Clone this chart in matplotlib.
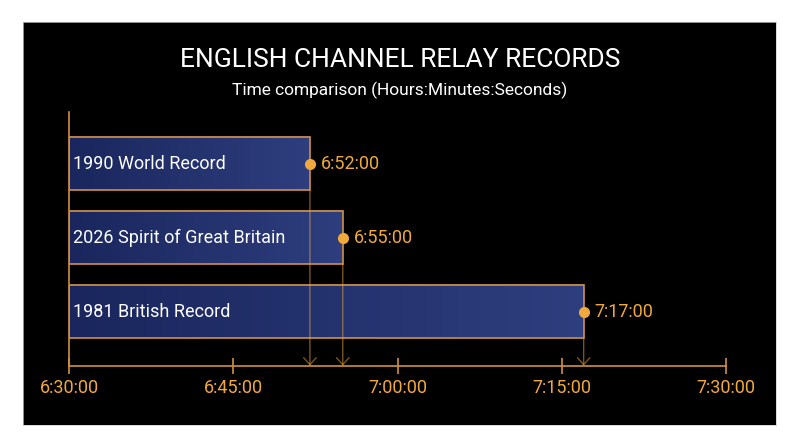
import numpy as np
import matplotlib
matplotlib.use('Agg')
from matplotlib import pyplot as pl
from matplotlib.patches import Rectangle
from matplotlib.colors import LinearSegmentedColormap

# data
teams = ['1990 World Record', '2026 Spirit of Great Britain', '1981 British Record']
times = ['6:52:00', '6:55:00', '7:17:00']
tick_labels = ['6:30:00', '6:45:00', '7:00:00', '7:15:00', '7:30:00']

def to_min(s):
    h, m, sec = (int(p) for p in s.split(':'))
    return h * 60 + m + sec / 60.0

vals = [to_min(t) for t in times]
ticks = [to_min(t) for t in tick_labels]
start, stop = ticks[0], ticks[-1]

orange = '#f2a93b'
edge = '#d2913f'
bar_cmap = LinearSegmentedColormap.from_list('navy', ['#1a265d', '#2e3e7e'])

pl.rcParams['font.family'] = ['Roboto', 'DejaVu Sans']
fig = pl.figure(figsize=(8, 4.47), dpi=100, facecolor='white')

# black panel
bg = fig.add_axes([23/800, 22/447, 753/800, 403/447], zorder=0)
bg.set_facecolor('black')
bg.set_xticks([])
bg.set_yticks([])
for s in bg.spines.values():
    s.set_color('#cccccc')
    s.set_linewidth(0.5)

fig.text(0.5, (447-60)/447, 'ENGLISH CHANNEL RELAY RECORDS', color='white', fontsize=19,
         ha='center', va='center')
fig.text(0.5, (447-90)/447, 'Time comparison (Hours:Minutes:Seconds)', color='white',
         fontsize=12.5, ha='center', va='center')

ax = fig.add_axes([69/800, (447-365.7)/447, 657/800, 254/447], zorder=1)
ax.set_facecolor('none')

h = 0.72
grad = np.linspace(0, 1, 256).reshape(1, -1)
for i, (name, v, t) in enumerate(zip(teams, vals, times)):
    ax.imshow(grad, cmap=bar_cmap, extent=[start, v, i + h/2, i - h/2], aspect='auto', zorder=1)
    ax.add_patch(Rectangle((start, i - h/2), v - start, h, facecolor='none', edgecolor=edge,
                           lw=1.2, zorder=2))
    ax.text(start + 0.4, i, name, color='white', fontsize=13, va='center', ha='left', zorder=4)
    ax.annotate('', xy=(v, 2.73), xytext=(v, i + h/2),
                arrowprops=dict(arrowstyle='->,head_length=0.5,head_width=0.45', color=orange,
                                alpha=0.5, lw=1, shrinkA=0, shrinkB=0), zorder=3)
    ax.plot(v, i, 'o', color=orange, markersize=7, zorder=5)
    ax.annotate(t, (v, i), xytext=(8, 0), textcoords='offset points', color=orange,
                fontsize=13, va='center', ha='left', zorder=5)

ax.set_xlim(start, stop)
ax.set_ylim(2.73, -0.70)
ax.set_xticks(ticks)
ax.set_xticklabels(tick_labels)
ax.set_yticks([])
for s in ['top', 'right']:
    ax.spines[s].set_visible(False)
for s in ['bottom', 'left']:
    ax.spines[s].set_color(edge)
    ax.spines[s].set_linewidth(1.2)
ax.tick_params(axis='x', direction='inout', length=11, width=1.2, color=edge,
               labelcolor=orange, labelsize=13, pad=4)

fig.savefig('out.png', dpi=100, facecolor='white')
